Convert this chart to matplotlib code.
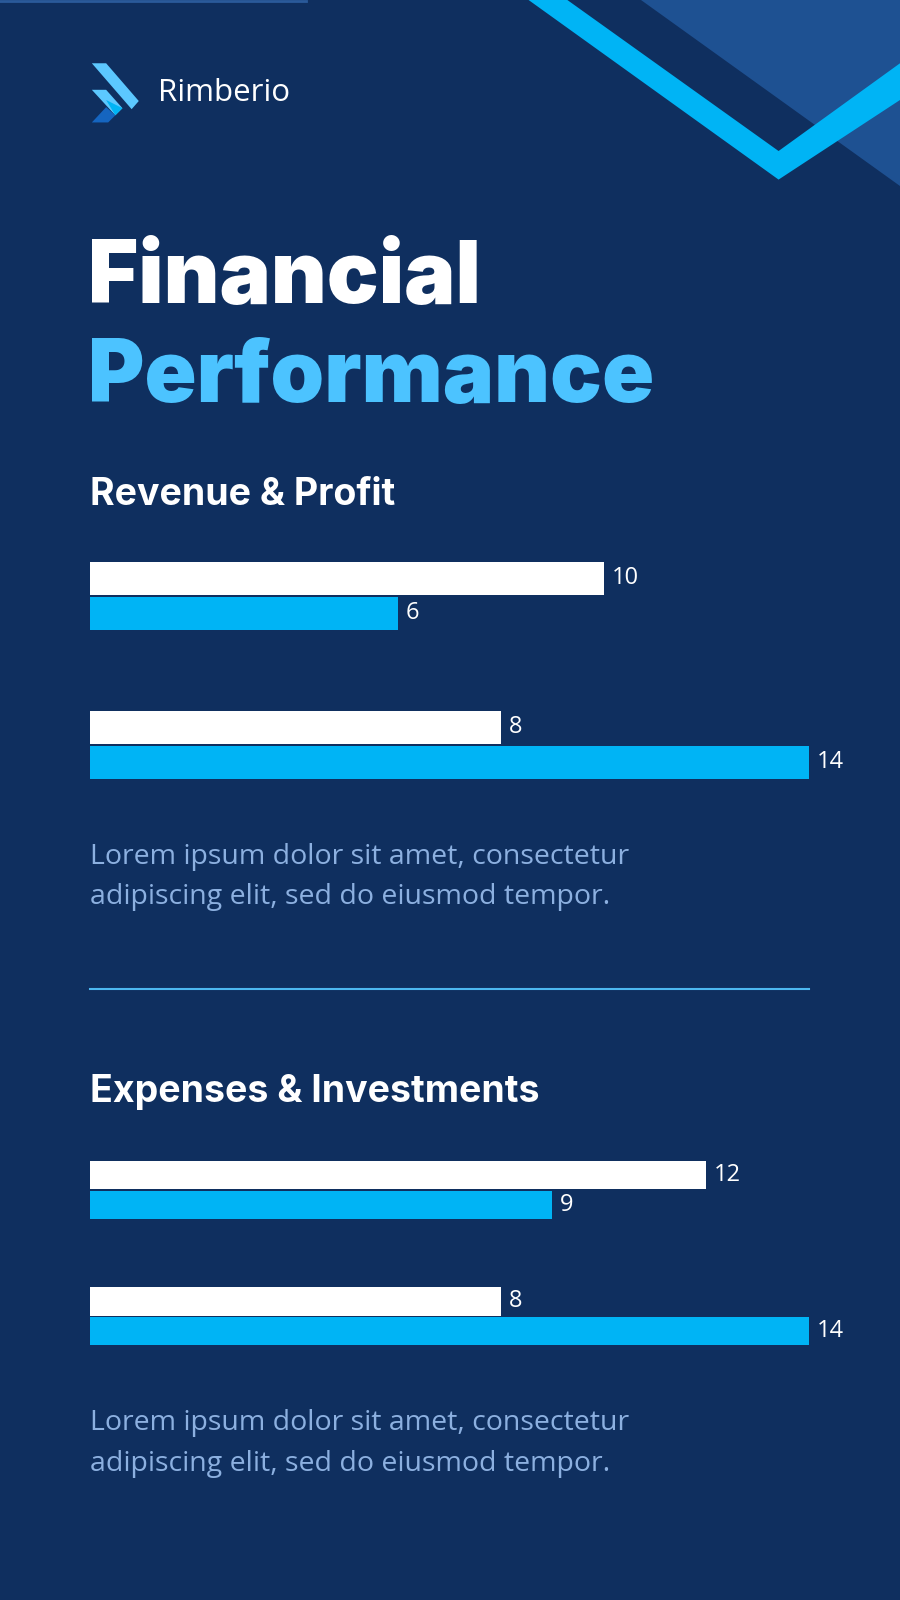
import matplotlib
matplotlib.use("Agg")
from matplotlib import pyplot as plt
from matplotlib.patches import Polygon
import numpy as np

BG = '#0f2f5f'
CYAN = '#00b4f5'
WHITE = '#ffffff'
SOFT = '#8cb0e0'

groups1 = ['Revenue', 'Profit']
white1 = [10, 8]
blue1 = [6, 14]
groups2 = ['Expenses', 'Investments']
white2 = [12, 8]
blue2 = [9, 14]
xmax = 14

W, H = 882, 1568
fig = plt.figure(figsize=(9, 16), dpi=100)
fig.patch.set_facecolor(BG)
bg = fig.add_axes([0, 0, 1, 1])
bg.set_xlim(0, W)
bg.set_ylim(H, 0)
bg.axis('off')
bg.set_facecolor(BG)

# corner decoration
bg.add_patch(Polygon([(628, 0), (W, 0), (W, 182)], color='#1e5192', lw=0))
bg.add_patch(Polygon([(518, 0), (556, 0), (763, 148), (W, 62), (W, 98), (763, 176)],
                     color=CYAN, lw=0))
bg.plot([0, 300], [0.8, 0.8], color='#2a5a9a', lw=2)

# logo
bg.add_patch(Polygon([(90, 62), (104, 62), (136, 99), (129, 107)], color='#5cc8ff', lw=0))
bg.add_patch(Polygon([(90, 88), (104, 88), (120, 106), (113, 113)], color='#5cc8ff', lw=0))
bg.add_patch(Polygon([(104, 98), (120, 106), (113, 113)], color=CYAN, lw=0))
bg.add_patch(Polygon([(90, 120), (104, 105), (113, 113), (106, 120)], color='#1565c0', lw=0))
bg.text(155, 91, 'Rimberio', color=WHITE, fontsize=22.5, family='Open Sans',
        va='center', ha='left')

bg.text(86, 297, 'Financial', color=WHITE, fontsize=62, family='Inter',
        weight='black', va='baseline')
bg.text(86, 394, 'Performance', color='#4cc3ff', fontsize=62, family='Inter',
        weight='black', va='baseline')

def section(title, ty, lorem_y):
    bg.text(88, ty, title, color=WHITE, fontsize=27, family='Inter',
            weight='bold', va='baseline')
    bg.text(88, lorem_y, 'Lorem ipsum dolor sit amet, consectetur\nadipiscing elit, sed do eiusmod tempor.',
            color=SOFT, fontsize=20.5, family='Open Sans', va='top', linespacing=1.6)

section('Revenue & Profit', 495, 826)
section('Expenses & Investments', 1080, 1381)
bg.plot([88, 793], [969, 969], color='#4db8f0', lw=1.5)


def bars(top, bottom, wvals, bvals, h):
    ax = fig.add_axes([88 / W, 1 - bottom / H, (793 - 88) / W, (bottom - top) / H])
    ax.set_facecolor('none')
    y = np.arange(len(wvals))
    ax.barh(y - h / 2, wvals, height=h * 0.95, color=WHITE, align='center')
    ax.barh(y + h / 2, bvals, height=h * 0.95, color=CYAN, align='center')
    for yi, v in zip(y, wvals):
        ax.text(v + 0.15, yi - h / 2, str(v), color=WHITE, fontsize=17,
                va='center', ha='left', family='Open Sans')
    for yi, v in zip(y, bvals):
        ax.text(v + 0.15, yi + h / 2, str(v), color=WHITE, fontsize=17,
                va='center', ha='left', family='Open Sans')
    ax.set_xlim(0, xmax)
    ax.set_ylim(len(wvals) - 0.5, -0.5)
    ax.axis('off')


bars(511, 803, white1, blue1, 0.235)
bars(1104, 1352, white2, blue2, 0.236)

fig.savefig('out.png', dpi=100, facecolor=BG)
